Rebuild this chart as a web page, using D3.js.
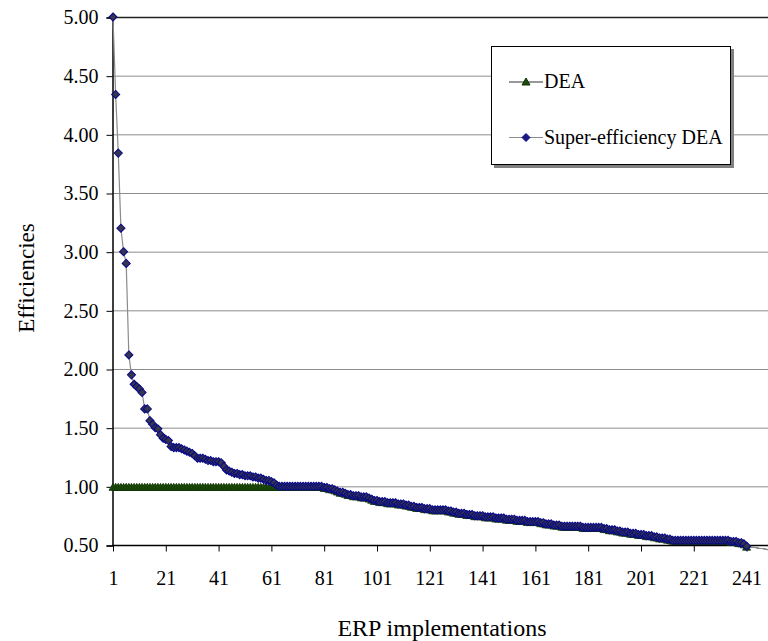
<!DOCTYPE html>
<html>
<head>
<meta charset="utf-8">
<style>
  body { margin: 0; background: #fff; }
  svg text { font-family: "Liberation Serif", "Times New Roman", serif; fill: #000; }
</style>
</head>
<body>
<div id="chart"></div>
<script src="https://cdn.jsdelivr.net/npm/d3@7"></script>
<script>

// super-efficiency scores, sorted descending (units 1..249, the last ones fall under the axis)
var superEff = [
  5.00, 4.34, 3.84, 3.20, 3.00, 2.90, 2.12, 1.95, 1.87, 1.85,
  1.83, 1.80, 1.66, 1.66, 1.56, 1.53, 1.50, 1.49, 1.44, 1.41,
  1.40, 1.39, 1.34, 1.33, 1.33, 1.33, 1.32, 1.31, 1.30, 1.29,
  1.28, 1.26, 1.24, 1.24, 1.24, 1.23, 1.22, 1.22, 1.21, 1.21,
  1.21, 1.20, 1.17, 1.14, 1.13, 1.12, 1.11, 1.11, 1.10, 1.10,
  1.09, 1.09, 1.09, 1.08, 1.08, 1.07, 1.07, 1.06, 1.05, 1.05,
  1.04, 1.03, 1.01, 1.00, 1.00, 1.00, 1.00, 1.00, 1.00, 1.00,
  1.00, 1.00, 1.00, 1.00, 1.00, 1.00, 1.00, 1.00, 1.00, 1.00,
  0.99, 0.99, 0.98, 0.98, 0.97, 0.96, 0.95, 0.95, 0.94, 0.93,
  0.93, 0.92, 0.92, 0.92, 0.91, 0.91, 0.91, 0.90, 0.89, 0.88,
  0.88, 0.87, 0.87, 0.87, 0.86, 0.86, 0.86, 0.86, 0.85, 0.85,
  0.85, 0.84, 0.84, 0.83, 0.83, 0.82, 0.82, 0.82, 0.81, 0.81,
  0.81, 0.80, 0.80, 0.80, 0.80, 0.80, 0.80, 0.79, 0.79, 0.78,
  0.78, 0.77, 0.77, 0.77, 0.76, 0.76, 0.76, 0.75, 0.75, 0.75,
  0.75, 0.74, 0.74, 0.74, 0.74, 0.73, 0.73, 0.73, 0.73, 0.72,
  0.72, 0.72, 0.72, 0.71, 0.71, 0.71, 0.71, 0.70, 0.70, 0.70,
  0.70, 0.70, 0.69, 0.69, 0.68, 0.68, 0.68, 0.67, 0.67, 0.67,
  0.66, 0.66, 0.66, 0.66, 0.66, 0.66, 0.66, 0.66, 0.65, 0.65,
  0.65, 0.65, 0.65, 0.65, 0.65, 0.65, 0.64, 0.64, 0.63, 0.63,
  0.63, 0.62, 0.62, 0.61, 0.61, 0.61, 0.60, 0.60, 0.60, 0.59,
  0.59, 0.59, 0.58, 0.58, 0.58, 0.57, 0.57, 0.56, 0.56, 0.56,
  0.55, 0.55, 0.54, 0.54, 0.54, 0.54, 0.54, 0.54, 0.54, 0.54,
  0.54, 0.54, 0.54, 0.54, 0.54, 0.54, 0.54, 0.54, 0.54, 0.54,
  0.54, 0.54, 0.54, 0.54, 0.53, 0.53, 0.53, 0.52, 0.52, 0.51,
  0.49, 0.485, 0.48, 0.48, 0.475, 0.47, 0.47, 0.465, 0.46
];

// plain DEA scores for the same units (efficient units capped at 1)
var dea = [
  1.00, 1.00, 1.00, 1.00, 1.00, 1.00, 1.00, 1.00, 1.00, 1.00,
  1.00, 1.00, 1.00, 1.00, 1.00, 1.00, 1.00, 1.00, 1.00, 1.00,
  1.00, 1.00, 1.00, 1.00, 1.00, 1.00, 1.00, 1.00, 1.00, 1.00,
  1.00, 1.00, 1.00, 1.00, 1.00, 1.00, 1.00, 1.00, 1.00, 1.00,
  1.00, 1.00, 1.00, 1.00, 1.00, 1.00, 1.00, 1.00, 1.00, 1.00,
  1.00, 1.00, 1.00, 1.00, 1.00, 1.00, 1.00, 1.00, 1.00, 1.00,
  1.00, 1.00, 1.00, 1.00, 1.00, 1.00, 1.00, 1.00, 1.00, 1.00,
  1.00, 1.00, 1.00, 1.00, 1.00, 1.00, 1.00, 1.00, 1.00, 1.00,
  0.99, 0.99, 0.98, 0.98, 0.97, 0.96, 0.95, 0.95, 0.94, 0.93,
  0.93, 0.92, 0.92, 0.92, 0.91, 0.91, 0.91, 0.90, 0.89, 0.88,
  0.88, 0.87, 0.87, 0.87, 0.86, 0.86, 0.86, 0.86, 0.85, 0.85,
  0.85, 0.84, 0.84, 0.83, 0.83, 0.82, 0.82, 0.82, 0.81, 0.81,
  0.81, 0.80, 0.80, 0.80, 0.80, 0.80, 0.80, 0.79, 0.79, 0.78,
  0.78, 0.77, 0.77, 0.77, 0.76, 0.76, 0.76, 0.75, 0.75, 0.75,
  0.75, 0.74, 0.74, 0.74, 0.74, 0.73, 0.73, 0.73, 0.73, 0.72,
  0.72, 0.72, 0.72, 0.71, 0.71, 0.71, 0.71, 0.70, 0.70, 0.70,
  0.70, 0.70, 0.69, 0.69, 0.68, 0.68, 0.68, 0.67, 0.67, 0.67,
  0.66, 0.66, 0.66, 0.66, 0.66, 0.66, 0.66, 0.66, 0.65, 0.65,
  0.65, 0.65, 0.65, 0.65, 0.65, 0.65, 0.64, 0.64, 0.63, 0.63,
  0.63, 0.62, 0.62, 0.61, 0.61, 0.61, 0.60, 0.60, 0.60, 0.59,
  0.59, 0.59, 0.58, 0.58, 0.58, 0.57, 0.57, 0.56, 0.56, 0.56,
  0.55, 0.55, 0.54, 0.54, 0.54, 0.54, 0.54, 0.54, 0.54, 0.54,
  0.54, 0.54, 0.54, 0.54, 0.54, 0.54, 0.54, 0.54, 0.54, 0.54,
  0.54, 0.54, 0.54, 0.54, 0.53, 0.53, 0.53, 0.52, 0.52, 0.51,
  0.49, 0.485, 0.48, 0.48, 0.475, 0.47, 0.47, 0.465, 0.46
];

var xTicks = [1, 21, 41, 61, 81, 101, 121, 141, 161, 181, 201, 221, 241];
var yTicks = [0.5, 1.0, 1.5, 2.0, 2.5, 3.0, 3.5, 4.0, 4.5, 5.0];
var seriesNames = ["DEA", "Super-efficiency DEA"];

const Y_MIN = 0.5
const Y_MAX = 5.0
const MARK_MIN = 0.49   // markers below the axis are not shown

var width = 768;
var height = 641;
var margin = ({top: 17, right: 0, bottom: 96, left: 112})

var svg = d3.select("#chart")
  .append("svg")
    .attr("width", width)
    .attr("height", height)

var xScale = d3.scaleLinear()
  .domain([1, superEff.length])
  .range([margin.left + 1, margin.left + 1 + (superEff.length - 1) * 2.64])

var yScale = d3.scaleLinear()
  .domain([Y_MIN, Y_MAX])
  .range([height - margin.bottom, margin.top])

// gridlines
svg.append("g")
  .selectAll("line")
  .data(yTicks.filter(d => d > Y_MIN))
  .join("line")
    .attr("x1", margin.left)
    .attr("x2", width)
    .attr("y1", d => yScale(d) + 0.5)
    .attr("y2", d => yScale(d) + 0.5)
    .attr("stroke", d => d == Y_MAX ? "#222" : "#8c8c8c")
    .attr("stroke-width", d => d == Y_MAX ? 1.6 : 1)

// y axis
var yAxis = svg.append("g")
    .attr("transform", `translate(${margin.left + 0.5},0.5)`)
    .call(d3.axisLeft(yScale).tickValues(yTicks).tickFormat(d3.format(".2f")).tickSize(6).tickPadding(8))
yAxis.select(".domain").attr("stroke", "#000").attr("stroke-width", 1.5)
yAxis.selectAll("text").style("font-size", "20px")
    .style("font-family", "'Liberation Serif', 'Times New Roman', serif")

// x axis
var xAxis = svg.append("g")
    .attr("transform", `translate(0,${height - margin.bottom + 0.5})`)
    .call(d3.axisBottom(xScale).tickValues(xTicks).tickFormat(d3.format("d")).tickSize(6).tickPadding(19).tickSizeOuter(0))
xAxis.select(".domain").attr("stroke", "#000").attr("stroke-width", 1.5)
    .attr("d", `M${margin.left},0H${width}`)
xAxis.selectAll("text").style("font-size", "20px")
    .style("font-family", "'Liberation Serif', 'Times New Roman', serif")

var line = d3.line()
    .x((d, i) => xScale(i + 1))
    .y(d => yScale(d))

var diamond = "M0,-4L4,0L0,4L-4,0Z"
var triangle = "M0,-4L4,3L-4,3Z"

// DEA series
svg.append("path")
    .datum(dea)
    .attr("fill", "none")
    .attr("stroke", "#333")
    .attr("stroke-width", 1)
    .attr("d", line)

svg.append("g")
  .selectAll("path")
  .data(dea.map((v, i) => [i + 1, v]).filter(d => d[1] >= MARK_MIN))
  .join("path")
    .attr("transform", d => `translate(${xScale(d[0])},${yScale(d[1]) + 1})`)
    .attr("d", triangle)
    .attr("fill", "#1f4a0c")
    .attr("stroke", "#0d3300")
    .attr("stroke-width", 0.8)

// super-efficiency series
svg.append("path")
    .datum(superEff)
    .attr("fill", "none")
    .attr("stroke", "#8c8c8c")
    .attr("stroke-width", 1.2)
    .attr("d", line)

svg.append("g")
  .selectAll("path")
  .data(superEff.map((v, i) => [i + 1, v]).filter(d => d[1] >= MARK_MIN))
  .join("path")
    .attr("transform", d => `translate(${xScale(d[0])},${yScale(d[1])})`)
    .attr("d", diamond)
    .attr("fill", "#363648")
    .attr("stroke", "#0a0a8a")
    .attr("stroke-width", 1.1)

// axis titles
svg.append("text")
    .attr("text-anchor", "middle")
    .attr("x", 442)
    .attr("y", 636)
    .style("font-size", "24px")
    .text("ERP implementations");

svg.append("text")
    .attr("text-anchor", "middle")
    .attr("transform", "translate(34,278) rotate(-90)")
    .style("font-size", "23px")
    .text("Efficiencies");

// legend
var lg = svg.append("g").attr("transform", "translate(491,46)")
lg.append("rect")
    .attr("x", 3).attr("y", 3).attr("width", 240).attr("height", 119)
    .attr("fill", "#808080")
lg.append("rect")
    .attr("x", 0.5).attr("y", 0.5).attr("width", 239).attr("height", 118)
    .attr("fill", "#fff").attr("stroke", "#000").attr("stroke-width", 1)

var items = lg.selectAll("g.item")
  .data(seriesNames)
  .join("g")
    .attr("class", "item")
    .attr("transform", (d, i) => `translate(0,${36 + i * 55.5})`)
items.append("line")
    .attr("x1", 18).attr("x2", 52)
    .attr("stroke", (d, i) => i == 0 ? "#333" : "#8c8c8c")
    .attr("stroke-width", 1.2)
items.append("path")
    .attr("transform", "translate(35,0)")
    .attr("d", (d, i) => i == 0 ? triangle : diamond)
    .attr("fill", (d, i) => i == 0 ? "#1f4a0c" : "#1a1a80")
    .attr("stroke", (d, i) => i == 0 ? "#0d3300" : "#0a0a8a")
items.append("text")
    .attr("x", 53)
    .attr("y", 6)
    .style("font-size", "20px")
    .text(d => d)

</script>
</body>
</html>
